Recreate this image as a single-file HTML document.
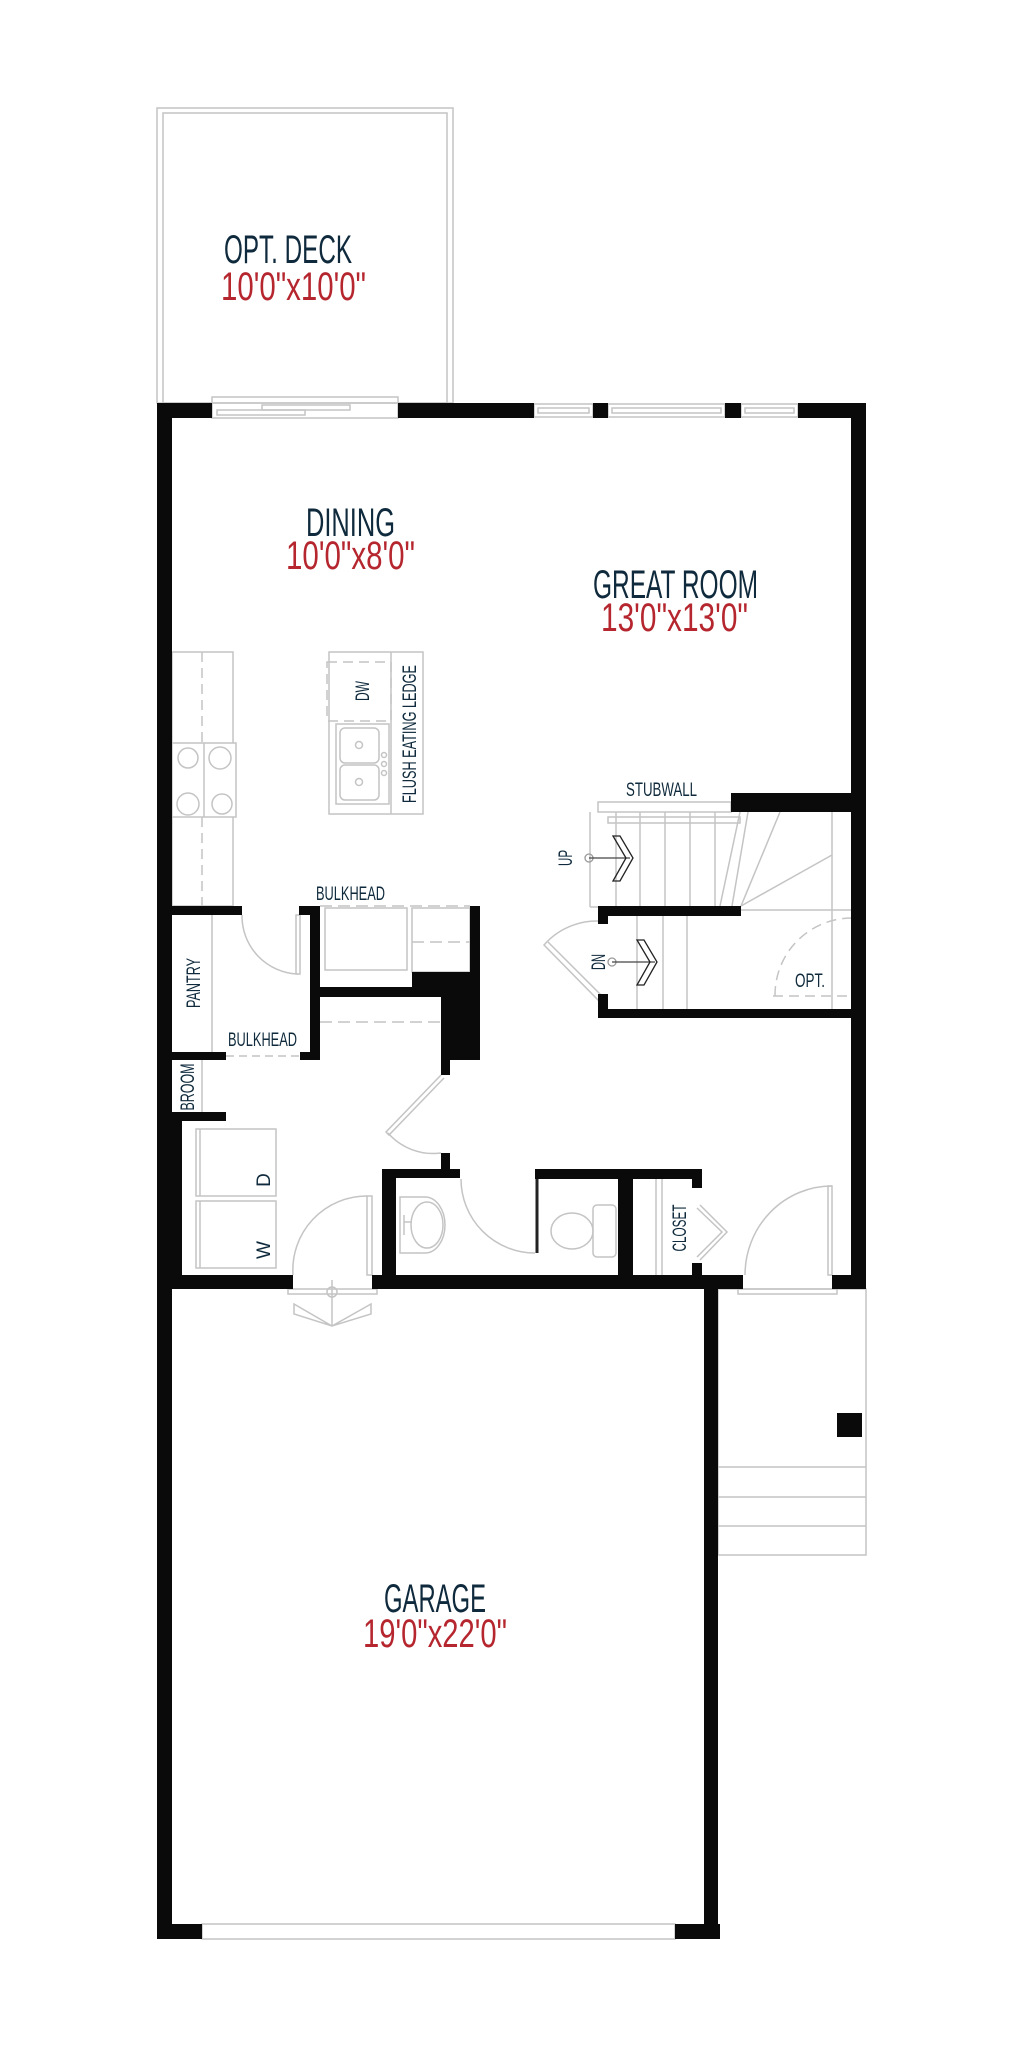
<!DOCTYPE html>
<html><head><meta charset="utf-8"><style>
html,body{margin:0;padding:0;background:#fff;}
svg{display:block;}
.t{font-family:"Liberation Sans Narrow","Liberation Sans",sans-serif;}
</style></head><body>
<svg width="1024" height="2048" viewBox="0 0 1024 2048" xmlns="http://www.w3.org/2000/svg">
<g fill="none" stroke="#c4c4c4" stroke-width="1.5">
<rect x="157" y="108" width="296" height="295"/>
<rect x="163" y="113" width="284" height="290"/>
<rect x="212" y="397" width="186" height="21"/>
<rect x="262" y="405" width="88" height="5"/>
<rect x="217" y="410" width="88" height="5"/>
<rect x="534" y="404" width="59" height="13"/><rect x="538" y="408" width="51" height="5"/>
<rect x="608" y="404" width="117" height="13"/><rect x="612" y="408" width="109" height="5"/>
<rect x="741" y="404" width="57" height="13"/><rect x="745" y="408" width="49" height="5"/>
<rect x="172" y="652" width="61" height="254"/>
<line x1="202" y1="652" x2="202" y2="743" stroke-dasharray="10,6"/>
<line x1="202" y1="817" x2="202" y2="906" stroke-dasharray="10,6"/>
<rect x="172" y="743" width="64" height="74" fill="#fff"/>
<line x1="204" y1="743" x2="204" y2="817"/>
<circle cx="188" cy="758" r="10"/><circle cx="220" cy="758" r="11"/>
<circle cx="188" cy="804" r="11"/><circle cx="222" cy="804" r="10"/>
<rect x="329" y="652" width="94" height="162"/>
<line x1="391" y1="652" x2="391" y2="814"/>
<rect x="327" y="662" width="64" height="59" stroke-dasharray="10,6"/>
<rect x="336" y="724" width="53" height="80"/>
<rect x="340" y="728" width="39" height="35" rx="5"/>
<rect x="340" y="765" width="39" height="35" rx="5"/>
<circle cx="359" cy="745" r="3.5"/><circle cx="359" cy="782" r="3.5"/>
<circle cx="384" cy="755" r="2.5"/><circle cx="384" cy="764" r="2.5"/><circle cx="384" cy="773" r="2.5"/>
<line x1="320" y1="906" x2="470" y2="906" stroke-dasharray="12,6"/>
<rect x="325" y="908" width="82" height="62"/>
<rect x="412" y="908" width="58" height="64"/>
<line x1="412" y1="942" x2="470" y2="942" stroke-dasharray="12,6"/>
<line x1="320" y1="1022" x2="441" y2="1022" stroke-dasharray="12,6"/>
<line x1="226" y1="1056" x2="300" y2="1056" stroke-dasharray="8,5"/>
<line x1="212" y1="915" x2="212" y2="1052"/>
<line x1="202" y1="1060" x2="202" y2="1112"/>
<rect x="296" y="915" width="4" height="59"/>
<path d="M242 915 A58 58 0 0 0 298 974"/>
<path d="M441 1075 L386 1132 L389 1135 L444 1078"/>
<path d="M388 1133 A60 60 0 0 0 441 1153"/>
<rect x="196" y="1129" width="80" height="67"/><line x1="200" y1="1129" x2="200" y2="1196"/>
<rect x="196" y="1201" width="80" height="67"/><line x1="200" y1="1201" x2="200" y2="1268"/>
<rect x="367" y="1196" width="5" height="79"/>
<path d="M293 1275 A74 74 0 0 1 367 1196"/>
<rect x="288" y="1289" width="89" height="5"/>
<circle cx="332" cy="1292" r="5"/>
<line x1="332" y1="1280" x2="332" y2="1326"/>
<path d="M294 1304 L332 1326 L371 1304 L371 1314 L332 1326 L294 1314 Z"/>
<path d="M400 1197 L425 1197 A20 28 0 0 1 425 1253 L400 1253 Z"/>
<ellipse cx="427" cy="1225" rx="16" ry="23"/>
<line x1="404" y1="1215" x2="404" y2="1235"/><line x1="404" y1="1222" x2="412" y2="1222"/>
<path d="M461 1179 A74 74 0 0 0 535 1253"/>
<line x1="537" y1="1178" x2="537" y2="1253" stroke="#222" stroke-width="3"/>
<ellipse cx="572" cy="1231" rx="21" ry="18"/>
<rect x="593" y="1205" width="23" height="52" rx="4"/>
<line x1="656" y1="1178" x2="656" y2="1275"/><line x1="662" y1="1178" x2="662" y2="1275"/>
<path d="M700 1205 L727 1232 L700 1260"/><path d="M697 1208 L722 1232 L697 1257"/>
<rect x="828" y="1186" width="4" height="89"/>
<path d="M745 1275 A87 89 0 0 1 832 1186"/>
<rect x="738" y="1289" width="99" height="5"/>
<rect x="718" y="1289" width="148" height="266"/>
<line x1="718" y1="1467" x2="866" y2="1467"/>
<line x1="718" y1="1497" x2="866" y2="1497"/>
<line x1="718" y1="1526" x2="866" y2="1526"/>
<rect x="202" y="1924" width="473" height="15"/>
<rect x="598" y="802" width="133" height="10"/>
<rect x="608" y="817" width="132" height="6"/>
<line x1="590" y1="812" x2="590" y2="907"/><line x1="590" y1="907" x2="598" y2="907"/>
<line x1="616" y1="812" x2="616" y2="906"/><line x1="640" y1="812" x2="640" y2="906"/>
<line x1="665" y1="812" x2="665" y2="906"/><line x1="690" y1="812" x2="690" y2="906"/>
<line x1="715" y1="812" x2="715" y2="906"/>
<line x1="720" y1="906" x2="740" y2="812"/><line x1="732" y1="906" x2="748" y2="812"/>
<line x1="741" y1="906" x2="780" y2="812"/><line x1="741" y1="906" x2="832" y2="855"/>
<line x1="741" y1="910" x2="852" y2="910"/>
<line x1="832" y1="812" x2="832" y2="1009"/>
<line x1="637" y1="916" x2="637" y2="1009"/><line x1="663" y1="916" x2="663" y2="1009"/>
<line x1="687" y1="916" x2="687" y2="1009"/>
<path d="M608 922 A70 70 0 0 0 544 945 L600 1002 L604 998 L548 942"/>
<path d="M775 996 A77 77 0 0 1 852 918" stroke-dasharray="10,6"/>
<line x1="773" y1="996" x2="852" y2="996" stroke-dasharray="10,6"/>
</g>
<g fill="none" stroke="#222" stroke-width="1.3">
<circle cx="589" cy="858" r="4" stroke="#999"/>
<line x1="589" y1="858" x2="630" y2="858" stroke="#444"/>
<path d="M613 836 L620 836 L633 858 L620 881 L613 881 L626 858 Z"/>
<circle cx="612" cy="962" r="4" stroke="#999"/>
<line x1="612" y1="962" x2="655" y2="962" stroke="#444"/>
<path d="M637 940 L644 940 L657 962 L644 985 L637 985 L650 962 Z"/>
</g>
<g fill="#0a0a0a">
<rect x="157" y="403" width="55" height="15"/>
<rect x="398" y="403" width="136" height="15"/>
<rect x="593" y="403" width="15" height="15"/>
<rect x="725" y="403" width="16" height="15"/>
<rect x="798" y="403" width="68" height="15"/>
<rect x="157" y="403" width="15" height="1536"/>
<rect x="851" y="403" width="15" height="886"/>
<rect x="157" y="1275" width="136" height="14"/>
<rect x="372" y="1275" width="371" height="14"/>
<rect x="832" y="1275" width="34" height="14"/>
<rect x="704" y="1275" width="14" height="664"/>
<rect x="157" y="1924" width="45" height="15"/>
<rect x="675" y="1924" width="45" height="15"/>
<rect x="157" y="1112" width="25" height="177"/>
<rect x="157" y="1112" width="69" height="9"/>
<rect x="157" y="1052" width="69" height="8"/>
<rect x="300" y="1052" width="20" height="8"/>
<rect x="157" y="906" width="85" height="9"/>
<rect x="299" y="906" width="21" height="9"/>
<rect x="310" y="906" width="10" height="154"/>
<rect x="310" y="987" width="170" height="10"/>
<rect x="412" y="972" width="68" height="25"/>
<rect x="470" y="906" width="10" height="154"/>
<rect x="441" y="997" width="39" height="63"/>
<rect x="441" y="1060" width="9" height="15"/>
<rect x="441" y="1153" width="9" height="16"/>
<rect x="382" y="1169" width="78" height="9"/>
<rect x="382" y="1169" width="14" height="120"/>
<rect x="535" y="1169" width="167" height="10"/>
<rect x="618" y="1169" width="15" height="120"/>
<rect x="692" y="1169" width="10" height="19"/>
<rect x="692" y="1263" width="10" height="26"/>
<rect x="731" y="793" width="135" height="19"/>
<rect x="598" y="906" width="143" height="10"/>
<rect x="598" y="906" width="10" height="18"/>
<rect x="598" y="1009" width="268" height="9"/>
<rect x="598" y="994" width="10" height="24"/>
<rect x="837" y="1413" width="25" height="24"/>
</g>
<g class="t" fill="#0f2a3c">
<text x="224" y="263" font-size="40" textLength="128" lengthAdjust="spacingAndGlyphs">OPT. DECK</text>
<text x="306" y="536" font-size="40" textLength="89" lengthAdjust="spacingAndGlyphs">DINING</text>
<text x="593" y="598" font-size="40" textLength="165" lengthAdjust="spacingAndGlyphs">GREAT ROOM</text>
<text x="384" y="1612" font-size="40" textLength="102" lengthAdjust="spacingAndGlyphs">GARAGE</text>
<text x="316" y="900" font-size="19" textLength="69" lengthAdjust="spacingAndGlyphs">BULKHEAD</text>
<text x="228" y="1046" font-size="19" textLength="69" lengthAdjust="spacingAndGlyphs">BULKHEAD</text>
<text x="626" y="796" font-size="19" textLength="71" lengthAdjust="spacingAndGlyphs">STUBWALL</text>
<text x="795" y="987" font-size="19" textLength="30" lengthAdjust="spacingAndGlyphs">OPT.</text>
<g font-size="19" text-anchor="middle">
<text transform="translate(193,983) rotate(-90)" y="7" textLength="50" lengthAdjust="spacingAndGlyphs">PANTRY</text>
<text transform="translate(187,1087) rotate(-90)" y="7" textLength="47" lengthAdjust="spacingAndGlyphs">BROOM</text>
<text transform="translate(263,1180) rotate(-90)" y="7">D</text>
<text transform="translate(263,1250) rotate(-90)" y="7">W</text>
<text transform="translate(362,691) rotate(-90)" y="7" textLength="20" lengthAdjust="spacingAndGlyphs">DW</text>
<text transform="translate(409,734) rotate(-90)" y="7" textLength="138" lengthAdjust="spacingAndGlyphs">FLUSH EATING LEDGE</text>
<text transform="translate(565,858) rotate(-90)" y="7" textLength="16" lengthAdjust="spacingAndGlyphs">UP</text>
<text transform="translate(598,962) rotate(-90)" y="7" textLength="16" lengthAdjust="spacingAndGlyphs">DN</text>
<text transform="translate(679,1228) rotate(-90)" y="7" textLength="47" lengthAdjust="spacingAndGlyphs">CLOSET</text>
</g>
</g>
<g class="t" fill="#b5262e">
<text x="221" y="300" font-size="40" textLength="145" lengthAdjust="spacingAndGlyphs">10'0"x10'0"</text>
<text x="286" y="569" font-size="40" textLength="129" lengthAdjust="spacingAndGlyphs">10'0"x8'0"</text>
<text x="601" y="631" font-size="40" textLength="147" lengthAdjust="spacingAndGlyphs">13'0"x13'0"</text>
<text x="363" y="1647" font-size="40" textLength="144" lengthAdjust="spacingAndGlyphs">19'0"x22'0"</text>
</g>
</svg>
</body></html>
